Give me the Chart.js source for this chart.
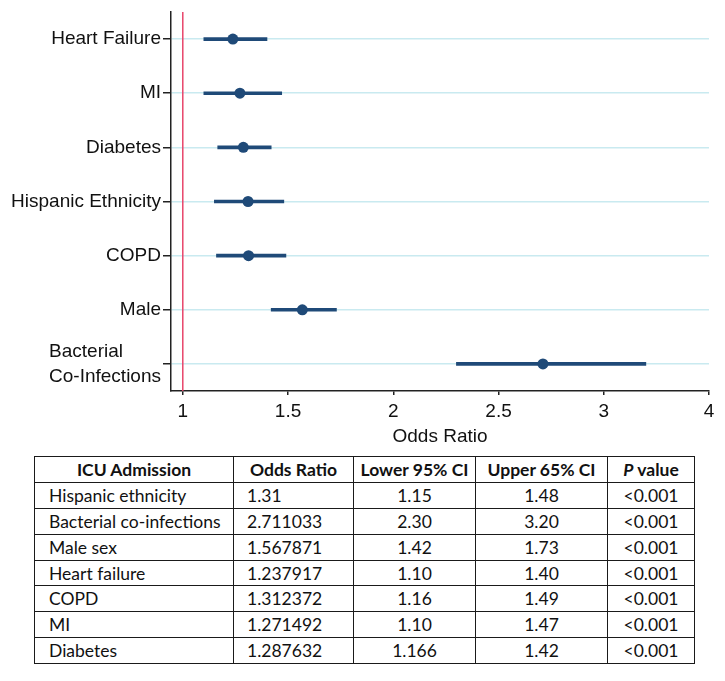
<!DOCTYPE html>
<html>
<head>
<meta charset="utf-8">
<script src="https://cdn.jsdelivr.net/npm/chart.js@4.4.1/dist/chart.umd.min.js"></script>
<style>
  html, body { margin: 0; padding: 0; background: #fff; }
  body { position: relative; width: 725px; height: 681px; overflow: hidden; }
  #plot { position: absolute; left: 0; top: 0; }
  #tbl {
    position: absolute; left: 34px; top: 456px;
    border-collapse: collapse;
    font-family: Lato, "Open Sans", sans-serif; font-size: 17.5px; color: #111;
  }
  #tbl td, #tbl th {
    border: 1.5px solid #1a1a1a; height: 24.9px; padding: 0 6px;
    text-align: center; vertical-align: middle; white-space: nowrap;
  }
  #tbl th { font-weight: 700; }
  #tbl td.name { text-align: left; padding-left: 14px; }
  #tbl td.or { text-align: left; padding-left: 13px; }
</style>
</head>
<body>
<canvas id="plot" width="725" height="450"></canvas>
<table id="tbl">
  <colgroup>
    <col style="width:199px"><col style="width:120px"><col style="width:122px"><col style="width:132px"><col style="width:87px">
  </colgroup>
  <thead><tr id="head"></tr></thead>
  <tbody id="body"></tbody>
</table>
<script>
/* ----------------------------------------------------------
   Forest plot data (top to bottom)
   ---------------------------------------------------------- */
const CATEGORIES = ['Heart Failure', 'MI', 'Diabetes', 'Hispanic Ethnicity', 'COPD', 'Male', ['Bacterial', 'Co-Infections']];
const ODDS_RATIO = [1.237917, 1.271492, 1.287632, 1.31, 1.312372, 1.567871, 2.711033];
const CI_LOWER   = [1.10, 1.10, 1.166, 1.15, 1.16, 1.42, 2.30];
const CI_UPPER   = [1.40, 1.47, 1.42, 1.48, 1.49, 1.73, 3.20];
const X_TICKS       = [1, 1.5, 2, 2.5, 3, 3.5];
const X_TICK_LABELS = ['1', '1.5', '2', '2.5', '3', '4'];
const REF_LINE = 1;

/* ----------------------------------------------------------
   Table data
   ---------------------------------------------------------- */
const TABLE_HEAD  = ['ICU Admission', 'Odds Ratio', 'Lower 95% CI', 'Upper 65% CI', 'P value'];
const TABLE_NAMES = ['Hispanic ethnicity', 'Bacterial co-infections', 'Male sex', 'Heart failure', 'COPD', 'MI', 'Diabetes'];
const TABLE_OR    = ['1.31', '2.711033', '1.567871', '1.237917', '1.312372', '1.271492', '1.287632'];
const TABLE_LOWER = ['1.15', '2.30', '1.42', '1.10', '1.16', '1.10', '1.166'];
const TABLE_UPPER = ['1.48', '3.20', '1.73', '1.40', '1.49', '1.47', '1.42'];
const TABLE_P     = ['<0.001', '<0.001', '<0.001', '<0.001', '<0.001', '<0.001', '<0.001'];

const NAVY = '#1f4a78';
const FONT = { family: "'Liberation Sans', Arial, sans-serif", size: 19 };

// red reference line at OR = 1
const refLine = {
  id: 'refLine',
  beforeDatasetsDraw(chart) {
    const { ctx, chartArea, scales } = chart;
    const x = scales.x.getPixelForValue(REF_LINE);
    ctx.save();
    ctx.strokeStyle = '#e8456a';
    ctx.lineWidth = 1.5;
    ctx.beginPath();
    ctx.moveTo(x, chartArea.top);
    ctx.lineTo(x, chartArea.bottom);
    ctx.stroke();
    ctx.restore();
  },
};

// y labels: multi-line labels are left-aligned as a block
const yLabels = {
  id: 'yLabels',
  afterDraw(chart) {
    const { ctx } = chart;
    const scale = chart.scales.y;
    const xr = scale.right - 10;
    const lh = 25;
    ctx.save();
    ctx.font = `${FONT.size}px ${FONT.family}`;
    ctx.fillStyle = '#111';
    ctx.textBaseline = 'middle';
    CATEGORIES.forEach((lab, i) => {
      const lines = Array.isArray(lab) ? lab : [lab];
      const y = scale.getPixelForTick(i);
      const w = Math.max(...lines.map(l => ctx.measureText(l).width));
      ctx.textAlign = 'left';
      lines.forEach((l, j) => {
        ctx.fillText(l, xr - w, y + (j - (lines.length - 1) / 2) * lh);
      });
    });
    ctx.restore();
  },
};

new Chart(document.getElementById('plot'), {
  type: 'bar',
  data: {
    labels: CATEGORIES.map(c => Array.isArray(c) ? c.join(' ') : c),
    datasets: [
      {
        type: 'line',
        data: ODDS_RATIO,
        showLine: false,
        pointRadius: 5.5,
        pointBackgroundColor: NAVY,
        pointBorderWidth: 0,
        order: 0,
      },
      {
        type: 'bar',
        data: CI_LOWER.map((lo, i) => [lo, CI_UPPER[i]]),
        backgroundColor: NAVY,
        barThickness: 3,
        borderWidth: 0,
        order: 1,
      },
    ],
  },
  options: {
    indexAxis: 'y',
    responsive: false,
    animation: false,
    layout: { padding: { top: 12, right: 16, bottom: 0, left: 0 } },
    plugins: { legend: { display: false }, tooltip: { enabled: false } },
    scales: {
      y: {
        type: 'category',
        offset: true,
        afterFit: (s) => { s.width = 171; },
        grid: { color: '#c9eaf0', lineWidth: 1.5, offset: false, tickColor: '#222', tickLength: 8 },
        border: { color: '#222', width: 1.5 },
        ticks: { display: false },
      },
      x: {
        type: 'linear',
        min: 0.944,
        max: 3.5,
        afterBuildTicks: (s) => { s.ticks = X_TICKS.map(v => ({ value: v })); },
        afterFit: (s) => { s.height = 59; },
        grid: { drawOnChartArea: false, tickLength: 4, tickColor: '#222', lineWidth: 1.5 },
        border: { color: '#222', width: 1.5 },
        ticks: {
          font: FONT, color: '#111', padding: 5, maxRotation: 0, autoSkip: false,
          callback: (v, i) => X_TICK_LABELS[i],
        },
        title: { display: true, text: 'Odds Ratio', font: FONT, color: '#111', padding: { top: 2, bottom: 2 } },
      },
    },
  },
  plugins: [refLine, yLabels],
});

/* ----------------------------------------------------------
   Table
   ---------------------------------------------------------- */
const head = document.getElementById('head');
TABLE_HEAD.forEach(h => {
  const th = document.createElement('th');
  if (h.startsWith('P ')) th.innerHTML = '<i>P</i>' + h.slice(1);
  else th.textContent = h;
  head.appendChild(th);
});
const body = document.getElementById('body');
TABLE_NAMES.forEach((n, i) => {
  const tr = document.createElement('tr');
  [[n, 'name'], [TABLE_OR[i], 'or'], [TABLE_LOWER[i], ''], [TABLE_UPPER[i], ''], [TABLE_P[i], '']].forEach(([t, c]) => {
    const td = document.createElement('td');
    td.textContent = t;
    if (c) td.className = c;
    tr.appendChild(td);
  });
  body.appendChild(tr);
});
</script>
</body>
</html>
